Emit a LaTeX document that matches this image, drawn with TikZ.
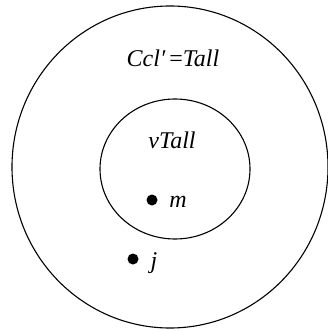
\documentclass[tikz,border=0pt]{standalone}
\usepackage{fontspec}
\setmainfont{Liberation Serif}
\usetikzlibrary{positioning}

\begin{document}
\begin{tikzpicture}[
x=1pt, y=-1pt,
ring/.style={draw, line width=1.1pt},
lbl/.style={font=\fontsize{24}{28}\selectfont\itshape, inner sep=0pt},
pt/.style={fill=black, circle, inner sep=0pt, minimum size=11pt}
]
\useasboundingbox (0,0) rectangle (328,331);

% the two sets
\draw [ring] (170,167) ellipse [x radius=158, y radius=161];
\draw [ring] (175,169) ellipse [x radius=75, y radius=70];

\node (outer) [lbl] at (173,58) {Ccl′\,{\upshape=}Tall};
\node (inner) [lbl] at (172,140) {vTall};

% elements
\node (m) [pt] at (152,200) {};
\node (mlbl) [lbl] at (178,202) {m};
\node (j) [pt] at (133,259) {};
\node (jlbl) [lbl] at (154,263) {j};
\end{tikzpicture}
\end{document}
